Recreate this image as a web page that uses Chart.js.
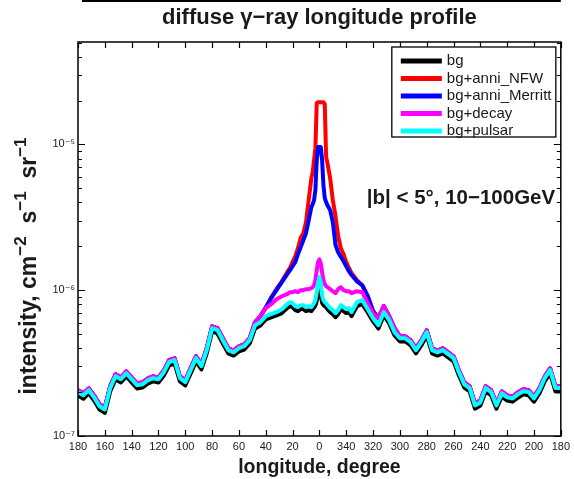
<!DOCTYPE html>
<html>
<head>
<meta charset="utf-8">
<script src="https://cdn.jsdelivr.net/npm/chart.js@4.4.0/dist/chart.umd.min.js"></script>
<style>
  html, body { margin: 0; padding: 0; background: #fff; }
  #wrap { width: 574px; height: 479px; }
</style>
</head>
<body>
<div id="wrap"><canvas id="profile" width="574" height="479"></canvas></div>
<script>
// ============ Data ============
// Galactic longitude in degrees; 180..360 is written as -180..0
const longitudes = [
    180, 176, 172, 168, 164, 160, 156, 152, 148, 144,
    140, 136, 132, 128, 124, 120, 116, 112, 108, 104,
    100, 96, 92, 88, 84, 80, 76, 72, 68, 64,
    60, 56, 52, 48, 44, 40, 36, 32, 28,
    24, 22, 20, 18, 16, 14, 12, 10, 8, 6,
    5, 4, 3, 2, 1, 0, -1, -2, -3, -4, -5,
    -6, -8, -10, -12, -14, -16, -18, -20, -22, -24,
    -28, -32, -36, -40, -44, -48, -52, -56, -60, -64,
    -68, -72, -76, -80, -84, -88, -92, -96, -100, -104,
    -108, -112, -116, -120, -124, -128, -132, -136, -140, -144,
    -148, -152, -156, -160, -164, -168, -172, -176, -180
];

// intensities in units of 1e-7 cm^-2 s^-1 sr^-1
const UNIT = 1e-7;

const bg = [
    1.90, 1.80, 1.96, 1.75, 1.52, 1.44, 2.02, 2.44, 2.33, 2.56,
    2.33, 2.12, 2.15, 2.29, 2.37, 2.33, 2.60, 3.05, 3.14, 2.37,
    2.22, 2.69, 3.25, 2.86, 3.69, 5.22, 5.05, 4.31, 3.69, 3.56,
    3.80, 3.92, 4.31, 5.46, 5.73, 6.30, 6.51, 6.72, 6.97,
    7.54, 7.77, 7.65, 7.30, 7.19, 7.42, 7.42, 7.19, 7.30, 7.19,
    7.42, 7.60, 7.85, 8.40, 9.40, 10.0, 9.30, 8.20, 7.90, 7.77, 7.65,
    7.42, 7.08, 6.85, 6.53, 6.85, 7.42, 7.19, 6.97, 7.08, 6.65,
    7.77, 8.03, 7.04, 6.11, 5.46, 6.72, 5.92, 4.89, 4.45, 4.45,
    4.18, 3.69, 4.18, 4.89, 3.69, 3.56, 3.69, 3.46, 3.25, 2.60,
    2.15, 2.02, 1.54, 1.62, 2.02, 1.90, 1.54, 1.86, 1.75, 1.72,
    1.83, 1.93, 1.90, 1.72, 1.96, 2.37, 2.69, 2.02, 2.02
];

const annNFW = [
    2.06, 1.96, 2.12, 1.90, 1.65, 1.57, 2.19, 2.65, 2.52, 2.77,
    2.52, 2.30, 2.33, 2.48, 2.56, 2.52, 2.82, 3.31, 3.41, 2.56,
    2.41, 2.92, 3.52, 3.10, 4.00, 5.65, 5.48, 4.68, 4.00, 3.86,
    4.12, 4.25, 4.68, 6.03, 6.63, 7.60, 8.90, 10.2, 11.5,
    13.3, 14.2, 15.6, 17.1, 19.4, 22.8, 24.6, 29.3, 41.5, 58.7,
    64.5, 78.2, 94.3, 192, 195, 195, 195, 195, 195, 189, 81.8,
    74.4, 58.7, 41.5, 32.2, 23.5, 19.4, 17.7, 15.6, 14.2, 13.1,
    11.7, 10.8, 9.10, 7.20, 6.43, 7.77, 6.63, 5.49, 4.83, 4.82,
    4.53, 4.00, 4.53, 5.30, 4.00, 3.86, 4.00, 3.75, 3.52, 2.82,
    2.33, 2.19, 1.67, 1.75, 2.19, 2.06, 1.67, 2.02, 1.90, 1.86,
    1.99, 2.09, 2.06, 1.86, 2.12, 2.56, 2.91, 2.19, 2.19
];

const annMerritt = [
    2.06, 1.96, 2.12, 1.90, 1.65, 1.57, 2.19, 2.65, 2.52, 2.77,
    2.52, 2.30, 2.33, 2.48, 2.56, 2.52, 2.82, 3.31, 3.41, 2.56,
    2.41, 2.92, 3.52, 3.10, 4.00, 5.65, 5.48, 4.68, 4.00, 3.86,
    4.12, 4.25, 4.68, 6.03, 6.63, 7.60, 8.81, 10.0, 11.35,
    12.9, 13.7, 14.6, 15.6, 17.7, 19.7, 22.0, 24.6, 30.2, 37.1,
    38.9, 41.5, 48.6, 78.2, 95.9, 95.9, 95.9, 78.2, 52.6, 42.8, 40.2,
    38.3, 35.4, 29.3, 20.4, 18.2, 16.9, 15.8, 14.6, 13.5, 12.7,
    11.5, 10.8, 9.09, 7.18, 6.43, 7.77, 6.63, 5.49, 4.83, 4.82,
    4.53, 4.00, 4.53, 5.30, 4.00, 3.86, 4.00, 3.75, 3.52, 2.82,
    2.33, 2.19, 1.67, 1.75, 2.19, 2.06, 1.67, 2.02, 1.90, 1.86,
    1.99, 2.09, 2.06, 1.86, 2.12, 2.56, 2.91, 2.19, 2.19
];

const decay = [
    2.06, 1.96, 2.12, 1.90, 1.65, 1.57, 2.19, 2.65, 2.52, 2.77,
    2.52, 2.30, 2.33, 2.48, 2.56, 2.52, 2.82, 3.31, 3.41, 2.56,
    2.41, 2.92, 3.52, 3.10, 4.00, 5.65, 5.48, 4.68, 4.00, 3.86,
    4.12, 4.25, 4.68, 6.03, 6.63, 7.53, 8.02, 8.68, 9.09,
    9.39, 9.69, 9.69, 9.84, 9.69, 10.0, 10.0, 10.16, 10.16, 10.32,
    10.48, 10.82, 11.71, 13.7, 15.6, 16.3, 15.3, 13.3, 11.7, 11.0, 10.65,
    10.48, 10.16, 9.84, 9.54, 10.16, 10.48, 10.0, 9.84, 9.84, 9.54,
    9.84, 9.69, 8.14, 6.95, 6.43, 7.77, 6.63, 5.49, 4.83, 4.82,
    4.53, 4.00, 4.53, 5.30, 4.00, 3.86, 4.00, 3.75, 3.52, 2.82,
    2.33, 2.19, 1.67, 1.75, 2.19, 2.06, 1.67, 2.02, 1.90, 1.86,
    1.99, 2.09, 2.06, 1.86, 2.12, 2.56, 2.91, 2.19, 2.19
];

const pulsar = [
    2.00, 1.90, 2.06, 1.84, 1.60, 1.52, 2.13, 2.57, 2.45, 2.69,
    2.45, 2.23, 2.26, 2.41, 2.49, 2.45, 2.74, 3.21, 3.31, 2.49,
    2.34, 2.83, 3.42, 3.01, 3.88, 5.49, 5.32, 4.54, 3.88, 3.75,
    4.00, 4.13, 4.54, 5.75, 6.03, 6.63, 6.85, 7.07, 7.41,
    8.02, 8.27, 8.14, 7.77, 7.65, 7.89, 7.89, 7.65, 7.77, 7.65,
    7.89, 8.14, 8.54, 9.69, 11.35, 12.3, 11.2, 9.20, 8.54, 8.27, 8.14,
    7.89, 7.53, 7.29, 6.95, 7.29, 7.89, 7.65, 7.41, 7.53, 7.07,
    8.27, 8.54, 7.41, 6.43, 5.75, 7.07, 6.23, 5.15, 4.68, 4.68,
    4.40, 3.88, 4.40, 5.15, 3.88, 3.75, 3.88, 3.64, 3.42, 2.74,
    2.26, 2.13, 1.62, 1.70, 2.13, 2.00, 1.62, 1.96, 1.84, 1.81,
    1.93, 2.03, 2.00, 1.81, 2.06, 2.49, 2.83, 2.13, 2.13
];

const seriesLabels = ['bg', 'bg+anni_NFW', 'bg+anni_Merritt', 'bg+decay', 'bg+pulsar'];
const seriesColors = ['#000000', '#ff0000', '#0000ff', '#ff00ff', '#00ffff'];
const seriesValues = [bg, annNFW, annMerritt, decay, pulsar];

// axis ticks
const lonTicks = [180, 160, 140, 120, 100, 80, 60, 40, 20, 0, -20, -40, -60, -80, -100, -120, -140, -160, -180];
const lonTickLabels = ['180', '160', '140', '120', '100', '80', '60', '40', '20', '0',
    '340', '320', '300', '280', '260', '240', '220', '200', '180'];
const yDecades = [1e-7, 1e-6, 1e-5];
const yDecadeLabels = ['10\u207B\u2077', '10\u207B\u2076', '10\u207B\u2075'];
const Y_MIN = 1e-7;
const Y_MAX = 5.04e-5;

const FONT = '"Liberation Sans", Arial, Helvetica, "DejaVu Sans", sans-serif';
const TEXT = '#1a1a1a';

// ============ Helpers ============
function decadeIndex(v) {
    return yDecades.findIndex(d => Math.abs(v / d - 1) < 1e-9);
}

function yTickValues() {
    const vals = [];
    yDecades.forEach(d => {
        for (let m = 1; m <= 9; m++) {
            const v = m * d;
            if (v <= Y_MAX * 1.0001) vals.push(v);
        }
    });
    return vals;
}

// ============ Decorations (box, inward ticks, legend, labels) ============
const framePlugin = {
    id: 'frame',
    afterDraw(chart) {
        const { ctx, chartArea: a } = chart;
        const xs = chart.scales.x;
        const ys = chart.scales.y;
        ctx.save();

        // rule left over from the panel above
        ctx.strokeStyle = '#000';
        ctx.lineWidth = 2;
        ctx.beginPath();
        ctx.moveTo(a.left + 4, 1);
        ctx.lineTo(a.right, 1);
        ctx.stroke();

        // axes box
        ctx.lineWidth = 1.5;
        ctx.strokeRect(a.left, a.top, a.right - a.left, a.bottom - a.top);

        // inward tick marks on all four sides
        ctx.lineWidth = 1.2;
        ctx.beginPath();
        xs.ticks.forEach(t => {
            const px = Math.round(xs.getPixelForValue(t.value)) + 0.5;
            ctx.moveTo(px, a.bottom);
            ctx.lineTo(px, a.bottom - 6);
            ctx.moveTo(px, a.top);
            ctx.lineTo(px, a.top + 6);
        });
        ys.ticks.forEach(t => {
            const py = Math.round(ys.getPixelForValue(t.value)) + 0.5;
            const len = decadeIndex(t.value) >= 0 ? 7 : 4;
            ctx.moveTo(a.left, py);
            ctx.lineTo(a.left + len, py);
            ctx.moveTo(a.right, py);
            ctx.lineTo(a.right - len, py);
        });
        ctx.stroke();

        // legend
        const lx = a.right - 169;
        const ly = a.top + 5;
        ctx.fillStyle = '#fff';
        ctx.fillRect(lx, ly, 164, 90);
        ctx.lineWidth = 1.3;
        ctx.strokeRect(lx, ly, 164, 90);
        ctx.font = '15px ' + FONT;
        ctx.textBaseline = 'middle';
        ctx.textAlign = 'left';
        seriesLabels.forEach((label, i) => {
            const ry = ly + 14 + i * 17.5;
            ctx.strokeStyle = seriesColors[i];
            ctx.lineWidth = 5;
            ctx.beginPath();
            ctx.moveTo(lx + 9, ry);
            ctx.lineTo(lx + 50, ry);
            ctx.stroke();
            ctx.fillStyle = TEXT;
            ctx.fillText(label, lx + 55, ry);
        });

        // region note
        ctx.font = 'bold 20.5px ' + FONT;
        ctx.textBaseline = 'alphabetic';
        ctx.fillStyle = TEXT;
        ctx.fillText('|b| < 5\u00B0, 10\u2212100GeV', a.right - 194, a.top + 162);

        // y axis title with superscripts
        const parts = [
            ['intensity, cm', false], ['\u22122', true],
            ['  s', false], ['\u22121', true],
            ['  sr', false], ['\u22121', true]
        ];
        const mainFont = 'bold 23px ' + FONT;
        const supFont = 'bold 17px ' + FONT;
        let total = 0;
        parts.forEach(([txt, sup]) => {
            ctx.font = sup ? supFont : mainFont;
            total += ctx.measureText(txt).width;
        });
        ctx.translate(28, (a.top + a.bottom) / 2 + 27);
        ctx.rotate(-Math.PI / 2);
        let cx = -total / 2;
        parts.forEach(([txt, sup]) => {
            ctx.font = sup ? supFont : mainFont;
            ctx.fillText(txt, cx, sup ? -2.5 : 7.5);
            cx += ctx.measureText(txt).width;
        });

        ctx.restore();
    }
};

// ============ Chart ============
// bg is painted first and bg+pulsar last, so lower `order` sits on top
const datasets = seriesValues.map((vals, i) => ({
    label: seriesLabels[i],
    data: longitudes.map((l, j) => ({ x: l, y: vals[j] * UNIT })),
    borderColor: seriesColors[i],
    backgroundColor: seriesColors[i],
    borderWidth: 4,
    borderJoinStyle: 'round',
    pointRadius: 0,
    tension: 0,
    fill: false,
    order: seriesValues.length - 1 - i
}));

new Chart(document.getElementById('profile').getContext('2d'), {
    type: 'line',
    data: { datasets },
    plugins: [framePlugin],
    options: {
        responsive: false,
        animation: false,
        layout: { padding: { left: 0, right: 12, top: 0, bottom: 0 } },
        plugins: {
            legend: { display: false },
            tooltip: { enabled: false },
            title: {
                display: true,
                text: 'diffuse \u03B3\u2212ray longitude profile',
                fullSize: false,
                color: TEXT,
                font: { family: FONT, size: 22, weight: 'bold' },
                padding: { top: 5, bottom: 10.6 }
            }
        },
        scales: {
            x: {
                type: 'linear',
                reverse: true,
                min: -180,
                max: 180,
                grid: { display: false, drawTicks: false },
                border: { display: false },
                afterBuildTicks: s => { s.ticks = lonTicks.map(v => ({ value: v })); },
                afterFit: s => { s.height = 43; },
                ticks: {
                    autoSkip: false,
                    maxRotation: 0,
                    padding: 4,
                    color: TEXT,
                    font: { family: FONT, size: 11 },
                    callback: (v, i) => lonTickLabels[i]
                },
                title: {
                    display: true,
                    text: 'longitude, degree',
                    color: TEXT,
                    font: { family: FONT, size: 19.5, weight: 'bold' },
                    padding: { top: 0, bottom: 0 }
                }
            },
            y: {
                type: 'logarithmic',
                min: Y_MIN,
                max: Y_MAX,
                grid: { display: false, drawTicks: false },
                border: { display: false },
                afterBuildTicks: s => { s.ticks = yTickValues().map(v => ({ value: v })); },
                afterFit: s => { s.width = 78; },
                ticks: {
                    autoSkip: false,
                    padding: 3,
                    color: TEXT,
                    font: { family: FONT, size: 11 },
                    callback: v => {
                        const k = decadeIndex(v);
                        return k >= 0 ? yDecadeLabels[k] : '';
                    }
                }
            }
        }
    }
});
</script>
</body>
</html>
